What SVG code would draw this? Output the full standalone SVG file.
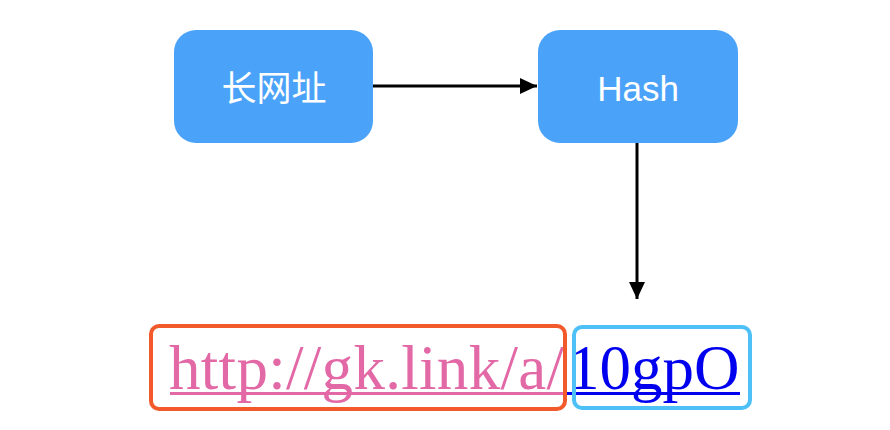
<svg xmlns="http://www.w3.org/2000/svg" width="890" height="430" viewBox="0 0 890 430">
<style>
.node{fill:#4AA3F9;}
.lbl{fill:#ffffff;font-family:"Helvetica","Liberation Sans","Noto Sans CJK SC",sans-serif;font-size:35px;text-anchor:middle;}
.conn{stroke:#000;stroke-width:3;fill:none;}
.url{font-family:"Liberation Serif","Times New Roman",serif;font-size:63px;}
.ul{stroke-width:3;}
</style>
<defs>
<marker id="ah" markerUnits="userSpaceOnUse" markerWidth="18" markerHeight="17" refX="17" refY="8" orient="auto">
<path d="M0,0 L17,8 L0,16 z" fill="#000"/>
</marker>
</defs>
<rect width="890" height="430" fill="#ffffff"/>
<g id="long-url">
<rect class="node" x="174" y="30" width="199" height="113" rx="22"/>
<text class="lbl" x="274" y="101">长网址</text>
</g>
<g id="hash">
<rect class="node" x="538" y="30" width="200" height="113" rx="22"/>
<text class="lbl" x="638" y="101">Hash</text>
</g>
<g id="connectors">
<line class="conn" x1="373" y1="86" x2="537" y2="86" marker-end="url(#ah)"/>
<line class="conn" x1="637" y1="143" x2="637" y2="299" marker-end="url(#ah)"/>
</g>
<g id="short-url">
<text class="url" x="169" y="389" fill="#E268A6" textLength="395" lengthAdjust="spacing">http://gk.link/a/</text>
<line class="ul" x1="170" y1="393.5" x2="567" y2="393.5" stroke="#E268A6"/>
<text class="url" x="568" y="389" fill="#0000EE">10gpO</text>
<line class="ul" x1="567" y1="393.5" x2="740" y2="393.5" stroke="#0000EE"/>
<rect x="151" y="326" width="414" height="83" rx="8" fill="none" stroke="#F25A2C" stroke-width="4"/>
<rect x="574" y="327" width="176" height="81" rx="8" fill="none" stroke="#4DC0F8" stroke-width="4"/>
</g>
</svg>
